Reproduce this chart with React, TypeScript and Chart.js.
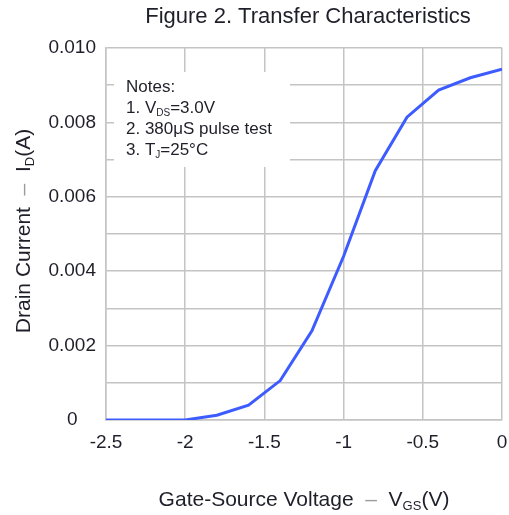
import React, { useEffect, useRef } from "react";
import { Chart, registerables } from "chart.js";

Chart.register(...registerables);

const vgs: number[] = [-2.5, -2.0, -1.8, -1.6, -1.4, -1.2, -1.0, -0.8, -0.6, -0.4, -0.2, 0];
const drainCurrent: number[] = [0, 0, 0.00013, 0.0004, 0.00106, 0.0024, 0.0044, 0.0067, 0.00814, 0.00887, 0.0092, 0.00943];

const chartTitle = "Figure 2. Transfer Characteristics";
const noteLines: { t: string; sub?: boolean }[][] = [
  [{ t: "Notes:" }],
  [{ t: "1. V" }, { t: "DS", sub: true }, { t: "=3.0V" }],
  [{ t: "2. 380\u03BCS pulse test" }],
  [{ t: "3. T" }, { t: "J", sub: true }, { t: "=25\u00B0C" }],
];
const xTitleParts = [{ t: "Gate-Source Voltage  " }, { t: "\u2013", dash: true }, { t: "  V" }, { t: "GS", sub: true }, { t: "(V)" }];
const yTitleParts = [{ t: "Drain Current  " }, { t: "\u2013", dash: true }, { t: "  I" }, { t: "D", sub: true }, { t: "(A)" }];

const FONT = "'Liberation Sans', Arial, sans-serif";
const TEXT = "#1f1f2a";

type Part = { t: string; sub?: boolean; dash?: boolean };

function drawRich(ctx: CanvasRenderingContext2D, parts: Part[], x: number, y: number, size: number, align: "left" | "center") {
  const subSize = Math.round(size * 0.6);
  const widths = parts.map((p) => {
    ctx.font = `${p.sub ? subSize : size}px ${FONT}`;
    return ctx.measureText(p.t).width;
  });
  const total = widths.reduce((a, b) => a + b, 0);
  let cx = align === "center" ? x - total / 2 : x;
  ctx.textAlign = "left";
  ctx.textBaseline = "middle";
  parts.forEach((p, i) => {
    ctx.font = `${p.sub ? subSize : size}px ${FONT}`;
    ctx.fillStyle = p.dash ? "#9a9aa0" : TEXT;
    ctx.fillText(p.t, cx, p.sub ? y + size * 0.3 : y);
    cx += widths[i];
  });
}

const decorPlugin = {
  id: "decor",
  beforeDatasetsDraw(chart: any) {
    const ctx: CanvasRenderingContext2D = chart.ctx;
    ctx.save();
    ctx.fillStyle = "#ffffff";
    ctx.fillRect(114, 72, 176, 95);
    noteLines.forEach((line, i) => {
      drawRich(ctx, line, 126, 87 + i * 21, 17, "left");
    });
    ctx.restore();
  },
  afterDraw(chart: any) {
    const ctx: CanvasRenderingContext2D = chart.ctx;
    ctx.save();
    ctx.font = `22px ${FONT}`;
    ctx.fillStyle = TEXT;
    ctx.textAlign = "center";
    ctx.textBaseline = "middle";
    ctx.fillText(chartTitle, 308, 17);
    drawRich(ctx, xTitleParts, 304, 500, 21, "center");
    ctx.translate(24, 231);
    ctx.rotate(-Math.PI / 2);
    drawRich(ctx, yTitleParts, 0, 0, 21, "center");
    ctx.restore();
  },
};

export default function App() {
  const ref = useRef<HTMLCanvasElement | null>(null);
  useEffect(() => {
    if (!ref.current) return;
    const chart = new Chart(ref.current, {
      type: "line",
      data: {
        datasets: [
          {
            data: vgs.map((v, i) => ({ x: v, y: drainCurrent[i] })),
            borderColor: "#3d5cff",
            borderWidth: 3,
            pointRadius: 0,
            tension: 0,
            fill: false,
          },
        ],
      },
      options: {
        animation: false,
        responsive: false,
        devicePixelRatio: 1,
        layout: { padding: { top: 48, right: 7, left: 0, bottom: 0 } },
        plugins: { legend: { display: false }, tooltip: { enabled: false }, title: { display: false } },
        scales: {
          x: {
            type: "linear",
            min: -2.5,
            max: 0,
            afterFit: (s: any) => {
              s.height = 95;
              s.paddingLeft = 0;
              s.paddingRight = 0;
            },
            border: { display: true, color: "#c4c4c4", width: 1.5 },
            grid: { color: "#c4c4c4", lineWidth: 1.5, drawTicks: false },
            ticks: {
              stepSize: 0.5,
              padding: 11,
              color: TEXT,
              font: { family: FONT, size: 19 },
              maxRotation: 0,
              callback: (v: any) => (Number(v) === 0 ? "0" : String(Number(v))),
            },
          },
          y: {
            type: "linear",
            min: 0,
            max: 0.01,
            afterFit: (s: any) => {
              s.width = 106;
              s.paddingTop = 0;
              s.paddingBottom = 0;
            },
            border: { display: true, color: "#c4c4c4", width: 1.5 },
            grid: { color: "#c4c4c4", lineWidth: 1.5, drawTicks: false },
            ticks: {
              stepSize: 0.001,
              padding: 10,
              crossAlign: "center",
              color: TEXT,
              font: { family: FONT, size: 19 },
              autoSkip: false,
              callback: (v: any) => {
                const k = Math.round(Number(v) * 1000);
                if (k % 2 !== 0) return "";
                return k === 0 ? "0" : (k / 1000).toFixed(3);
              },
            },
          },
        },
      },
      plugins: [decorPlugin],
    } as any);
    return () => chart.destroy();
  }, []);
  return (
    <div style={{ position: "absolute", left: 0, top: 0, width: 509, height: 515, background: "#fff" }}>
      <canvas ref={ref} width={509} height={515} />
    </div>
  );
}
